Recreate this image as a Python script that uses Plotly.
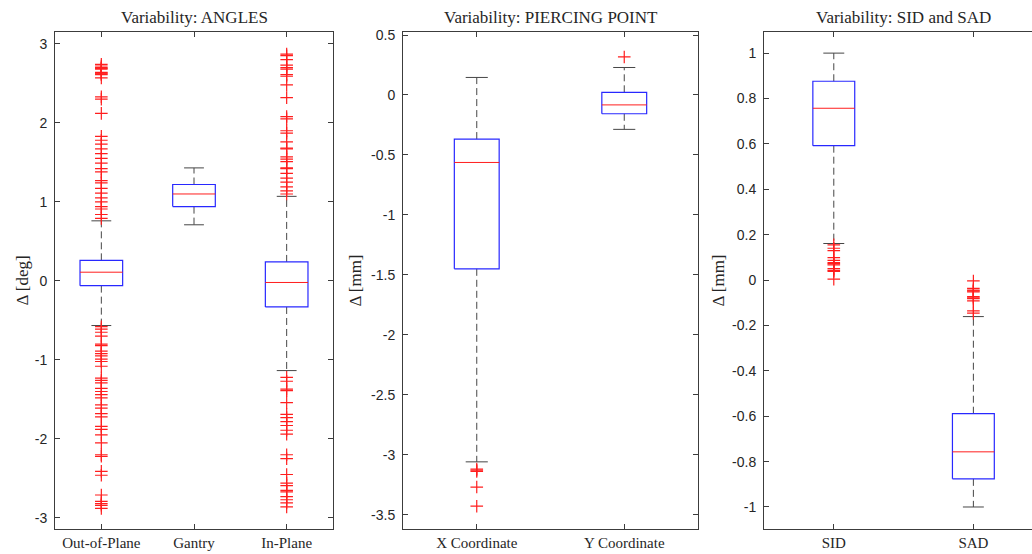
import plotly.graph_objects as go

# ---------------- data ----------------
angles_cats = ["Out-of-Plane", "Gantry", "In-Plane"]
angles_q1 = [-0.06, 0.94, -0.33]
angles_med = [0.11, 1.10, -0.02]
angles_q3 = [0.26, 1.22, 0.24]
angles_lo = [-0.565, 0.71, -1.135]
angles_hi = [0.76, 1.43, 1.07]
angles_out_oop = [2.74, 2.72, 2.70, 2.69, 2.68, 2.64, 2.63, 2.62, 2.61, 2.57, 2.33, 2.30, 2.12,
                  1.83, 1.78, 1.73, 1.67, 1.61, 1.55, 1.49, 1.42, 1.38, 1.27, 1.24, 1.17, 1.11,
                  1.05, 1.00, 0.94, 0.91, 0.84, 0.79,
                  -0.58, -0.61, -0.65, -0.70, -0.80, -0.82, -0.89, -0.92, -0.95, -0.99, -1.02,
                  -1.08, -1.23, -1.26, -1.29, -1.36, -1.40, -1.44, -1.48, -1.57, -1.61, -1.68,
                  -1.72, -1.84, -1.88, -1.95, -2.05, -2.20, -2.22, -2.41, -2.46, -2.71, -2.79,
                  -2.82, -2.84, -2.88]
angles_out_gantry = []
angles_out_inp = [2.87, 2.85, 2.80, 2.73, 2.70, 2.68, 2.61, 2.59, 2.48, 2.32, 2.08, 2.05, 1.90,
                  1.87, 1.76, 1.68, 1.67, 1.57, 1.54, 1.51, 1.43, 1.42, 1.36, 1.30, 1.25, 1.19,
                  1.14, 1.10,
                  -1.22, -1.27, -1.37, -1.39, -1.54, -1.69, -1.73, -1.78, -1.83, -1.89, -1.94,
                  -2.20, -2.25, -2.45, -2.56, -2.59, -2.65, -2.67, -2.73, -2.77, -2.81, -2.86]
angles_out = [angles_out_oop, angles_out_gantry, angles_out_inp]

pierce_cats = ["X Coordinate", "Y Coordinate"]
pierce_q1 = [-1.45, -0.157]
pierce_med = [-0.563, -0.083]
pierce_q3 = [-0.368, 0.022]
pierce_lo = [-3.06, -0.287]
pierce_hi = [0.146, 0.229]
pierce_out = [[-3.12, -3.13, -3.14, -3.27, -3.43], [0.317]]

dist_cats = ["SID", "SAD"]
dist_q1 = [0.592, -0.876]
dist_med = [0.757, -0.757]
dist_q3 = [0.876, -0.589]
dist_lo = [0.161, -1.0]
dist_hi = [1.0, -0.161]
dist_out = [[0.155, 0.14, 0.13, 0.099, 0.087, 0.077, 0.072, 0.067, 0.05, 0.043, 0.038, 0.004],
            [-0.004, -0.037, -0.044, -0.048, -0.052, -0.073, -0.078, -0.082, -0.092, -0.136,
             -0.146]]

titles = ["Variability: ANGLES", "Variability: PIERCING POINT", "Variability: SID and SAD"]
ylabels = ["\u0394 [deg]", "\u0394 [mm]", "\u0394 [mm]"]

ang_ticks = [3, 2, 1, 0, -1, -2, -3]
pier_ticks = [0.5, 0, -0.5, -1, -1.5, -2, -2.5, -3, -3.5]
dist_ticks = [1, 0.8, 0.6, 0.4, 0.2, 0, -0.2, -0.4, -0.6, -0.8, -1]

# ---------------- styling ----------------
W, H = 1032, 554
BLUE = "rgb(40,40,255)"
RED = "rgb(255,30,30)"
WHISK = "rgb(70,70,70)"
AX = "rgb(60,60,60)"
TXT = "rgb(38,38,38)"
TICKFONT = dict(family="Liberation Sans, Arial", size=14, color=TXT)
SERIF = "Liberation Serif, Times New Roman, serif"

panels = [
    dict(cats=angles_cats, q1=angles_q1, med=angles_med, q3=angles_q3, lo=angles_lo,
         hi=angles_hi, out=angles_out, half=0.23, cap=0.107, ticks=ang_ticks,
         yr=[-3.14, 3.15], xr=[0.5, 3.5], xd=[55 / W, 333 / W], mirror_y="ticks",
         title_x=(55 + 333) / 2 / W, ylab_x=22 / W),
    dict(cats=pierce_cats, q1=pierce_q1, med=pierce_med, q3=pierce_q3, lo=pierce_lo,
         hi=pierce_hi, out=pierce_out, half=0.152, cap=0.075, ticks=pier_ticks,
         yr=[-3.62, 0.525], xr=[0.5, 2.5], xd=[403 / W, 698 / W], mirror_y="ticks",
         title_x=(403 + 698) / 2 / W, ylab_x=355 / W),
    dict(cats=dist_cats, q1=dist_q1, med=dist_med, q3=dist_q3, lo=dist_lo,
         hi=dist_hi, out=dist_out, half=0.15, cap=0.075, ticks=dist_ticks,
         yr=[-1.097, 1.093], xr=[0.5, 2.42], xd=[764 / W, 1.0], mirror_y=False,
         title_x=903 / W, ylab_x=718 / W),
]
yd = [(H - 529) / H, (H - 32) / H]


def fmt(v):
    return "%g" % v


fig = go.Figure()
layout = dict(width=W, height=H, margin=dict(l=0, r=0, t=0, b=0),
              paper_bgcolor="white", plot_bgcolor="white", showlegend=False,
              annotations=[])

for k, p in enumerate(panels):
    xa = "x" if k == 0 else "x%d" % (k + 1)
    ya = "y" if k == 0 else "y%d" % (k + 1)
    bx, by, mx, my, wx, wy, cx, cy, ox, oy = [], [], [], [], [], [], [], [], [], []
    for i in range(len(p["cats"])):
        x = i + 1
        h = p["half"]
        c = p["cap"]
        bx += [x - h, x + h, x + h, x - h, x - h, None]
        by += [p["q1"][i], p["q1"][i], p["q3"][i], p["q3"][i], p["q1"][i], None]
        mx += [x - h, x + h, None]
        my += [p["med"][i], p["med"][i], None]
        wx += [x, x, None, x, x, None]
        wy += [p["q3"][i], p["hi"][i], None, p["q1"][i], p["lo"][i], None]
        cx += [x - c, x + c, None, x - c, x + c, None]
        cy += [p["hi"][i], p["hi"][i], None, p["lo"][i], p["lo"][i], None]
        for v in p["out"][i]:
            ox.append(x)
            oy.append(v)
    fig.add_trace(go.Scatter(x=wx, y=wy, mode="lines", xaxis=xa, yaxis=ya,
                             line=dict(color=WHISK, width=1, dash="7px,4px"), hoverinfo="skip"))
    fig.add_trace(go.Scatter(x=cx, y=cy, mode="lines", xaxis=xa, yaxis=ya,
                             line=dict(color=WHISK, width=1), hoverinfo="skip"))
    fig.add_trace(go.Scatter(x=bx, y=by, mode="lines", xaxis=xa, yaxis=ya,
                             line=dict(color=BLUE, width=1.2), hoverinfo="skip"))
    fig.add_trace(go.Scatter(x=mx, y=my, mode="lines", xaxis=xa, yaxis=ya,
                             line=dict(color=RED, width=1), hoverinfo="skip"))
    fig.add_trace(go.Scatter(x=ox, y=oy, mode="markers", xaxis=xa, yaxis=ya,
                             marker=dict(symbol="cross-thin", size=9, color=RED,
                                         line=dict(color=RED, width=1.2))))

    xkey = "xaxis" if k == 0 else "xaxis%d" % (k + 1)
    ykey = "yaxis" if k == 0 else "yaxis%d" % (k + 1)
    layout[xkey] = dict(domain=p["xd"], anchor=ya, range=p["xr"], showgrid=False,
                        zeroline=False, showline=True, linecolor=AX, linewidth=1,
                        mirror="ticks", ticks="inside", ticklen=5, tickcolor=AX,
                        tickvals=list(range(1, len(p["cats"]) + 1)), ticktext=p["cats"],
                        tickfont=dict(family=SERIF, size=15, color=TXT),
                        automargin=False, fixedrange=True)
    layout[ykey] = dict(domain=yd, anchor=xa, range=p["yr"], showgrid=False,
                        zeroline=False, showline=True, linecolor=AX, linewidth=1,
                        mirror=p["mirror_y"], ticks="inside", ticklen=5, tickcolor=AX,
                        tickvals=p["ticks"], ticktext=[fmt(v) for v in p["ticks"]],
                        tickfont=TICKFONT, ticklabelstandoff=4,
                        automargin=False, fixedrange=True)
    layout["annotations"].append(dict(text=titles[k], x=p["title_x"], y=yd[1], xref="paper",
                                      yref="paper", xanchor="center", yanchor="bottom", yshift=3,
                                      showarrow=False,
                                      font=dict(family=SERIF, size=17, color=TXT)))
    layout["annotations"].append(dict(text=ylabels[k], x=p["ylab_x"], y=(yd[0] + yd[1]) / 2,
                                      xref="paper", yref="paper", xanchor="center",
                                      yanchor="middle", textangle=-90, showarrow=False,
                                      font=dict(family=SERIF, size=17, color=TXT)))

fig.update_layout(**layout)
fig.write_html("out.html", config={"displayModeBar": False},
               post_script="document.body.style.margin='0';document.body.style.overflow='hidden';")
